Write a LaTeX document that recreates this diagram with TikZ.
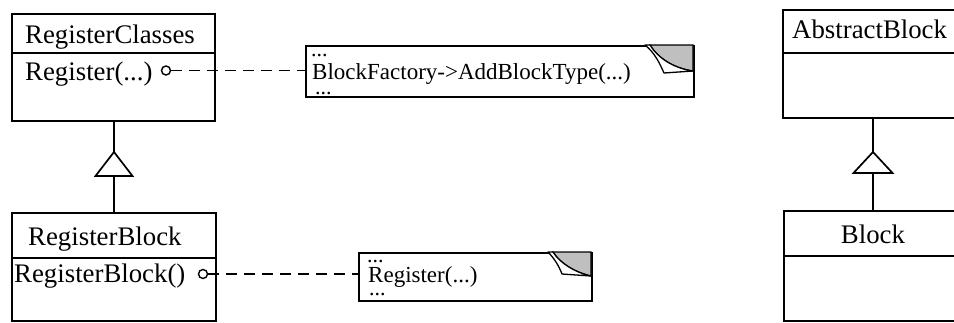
\documentclass[tikz,border=0pt]{standalone}
\usepackage{fontspec}
\setmainfont{Liberation Serif}
\usetikzlibrary{calc}
\newcommand{\clsfont}{\fontsize{26.8}{30}\selectfont}
\newcommand{\notefont}{\fontsize{23}{26}\selectfont}
\newcommand{\dotfont}{\fontsize{22}{24}\selectfont}
% three-line note content with exact baseline gaps
\newcommand{\notelines}[5]{\vbox{\lineskiplimit=-100pt\lineskip=0pt
  \hbox{\dotfont...}%
  \baselineskip=#4\hbox{\kern1pt\notefont #1}%
  \baselineskip=#5\hbox{\kern#2\dotfont...}}}
\begin{document}
\begin{tikzpicture}[x=1pt,y=-1pt,
  classbox/.style={draw,line width=1.8pt,rectangle,inner sep=0pt,anchor=north west},
  divider/.style={line width=1.5pt},
  clstext/.style={font=\clsfont,inner sep=0pt,anchor=base west},
  notebox/.style={draw,line width=1.5pt,rectangle,inner sep=0pt,anchor=north west,fill=white},
  notetext/.style={inner sep=0pt,anchor=base west},
  port/.style={circle,draw,line width=1.4pt,minimum size=9pt,inner sep=0pt,fill=white},
  link/.style={line width=1.6pt,dash pattern=on 11pt off 7pt},
  conn/.style={line width=1.7pt},
  tri/.style={line width=1.7pt,fill=white,line join=miter},
  shade/.style={fill=gray!50,draw,line width=1.2pt},
  flap/.style={fill=white,draw,line width=1.3pt,line join=round}]
\useasboundingbox (0,0) rectangle (954,322);
\clip (0,0) rectangle (954,322);

% class boxes
\node[classbox,minimum width=203pt,minimum height=107pt] (rc) at (11,13) {};
\draw[divider] (rc.west |- 0,53) -- (rc.east |- 0,53);
\node[clstext] (rct) at (25,43) {RegisterClasses};
\node[clstext] (rcm) at (25,80) {Register(...)};

\node[classbox,minimum width=204pt,minimum height=108pt] (rb) at (11,212) {};
\draw[divider] (rb.west |- 0,258) -- (rb.east |- 0,258);
\node[clstext] (rbt) at (28,245) {RegisterBlock};
\node[clstext] (rbm) at (14,282) {RegisterBlock()};

\node[classbox,minimum width=204pt,minimum height=108pt] (ab) at (782,9) {};
\draw[divider] (ab.west |- 0,53) -- (ab.east |- 0,53);
\node[clstext] (abt) at (792,38) {AbstractBlock};

\node[classbox,minimum width=204pt,minimum height=110pt] (bl) at (783,210) {};
\draw[divider] (bl.west |- 0,256) -- (bl.east |- 0,256);
\node[font=\clsfont,inner sep=0pt,anchor=base] (blt) at (873,243) {Block};

% generalization triangles
\coordinate (t1a) at (114,152);
\coordinate (t1b) at (114,176);
\draw[conn] (t1a |- rc.south) -- (t1a);
\draw[conn] (t1b) -- (t1b |- rb.north);
\draw[tri] (t1a) -- (95.5,176) -- (132.5,176) -- cycle;

\coordinate (t2a) at (873,152);
\coordinate (t2b) at (873,173);
\draw[conn] (t2a |- ab.south) -- (t2a);
\draw[conn] (t2b) -- (t2b |- bl.north);
\draw[tri] (t2a) -- (853.5,173) -- (892.5,173) -- cycle;

% notes
\node[notebox,minimum width=388pt,minimum height=51pt] (n1) at (305,45) {};
\fill[shade] (650,45) -- (693,45) -- (693,71) .. controls (673,68) and (658,58) .. (650,45) -- cycle;
\filldraw[flap] (645,45) -- (650,45) .. controls (658,58) and (673,68) .. (693,71) -- (664,73) .. controls (660,64) and (655,53) .. (645,45) -- cycle;
\node[notetext] (n1t) at (311,94) {\notelines{BlockFactory->AddBlockType(...)}{4pt}{}{23pt}{15pt}};

\node[notebox,minimum width=233pt,minimum height=48pt] (n2) at (358,252) {};
\fill[shade] (553,252) -- (591,252) -- (591,276) .. controls (574,272) and (560,263) .. (553,252) -- cycle;
\filldraw[flap] (548,252) -- (553,252) .. controls (560,263) and (574,272) .. (591,276) -- (562,274) .. controls (559,266) and (554,258) .. (548,252) -- cycle;
\node[notetext] (n2t) at (367,295) {\notelines{Register(...)}{2pt}{}{20pt}{13pt}};

% ports and links
\node[port] (c1) at (166,70.5) {};
\draw[link] (c1.east) -- (c1.east -| n1.west);
\node[port] (c2) at (203,274) {};
\draw[link] (c2.east) -- (c2.east -| n2.west);
\end{tikzpicture}
\end{document}
